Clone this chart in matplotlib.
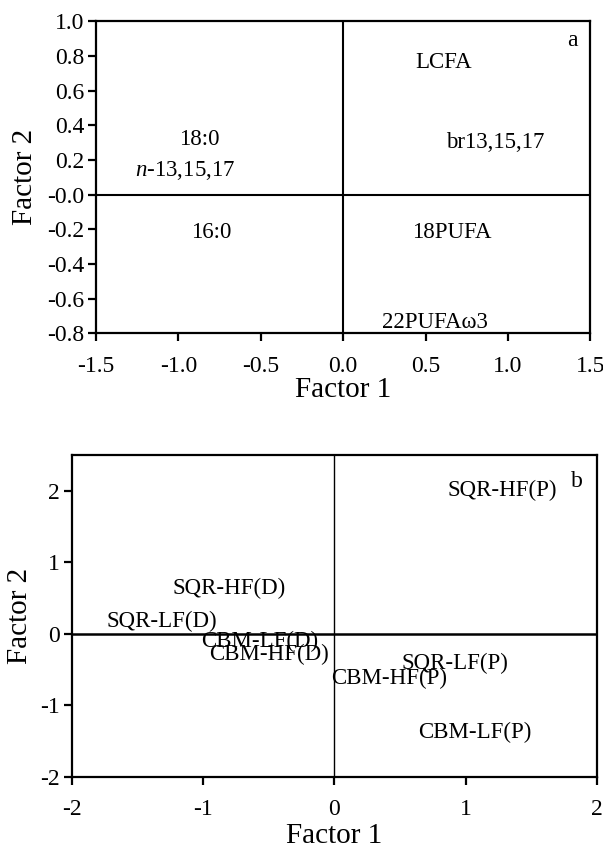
import numpy as np
import matplotlib as mpl
mpl.use('Agg')
import matplotlib.pyplot as plt
from matplotlib.ticker import FormatStrFormatter

plt.rcParams['font.family'] = ['Liberation Serif', 'DejaVu Serif']
plt.rcParams['axes.unicode_minus'] = False
plt.rcParams['mathtext.fontset'] = 'custom'
plt.rcParams['mathtext.it'] = 'Liberation Serif:italic'
plt.rcParams['mathtext.rm'] = 'Liberation Serif'

# panel a: fatty acid loadings
fa_labels = ["LCFA", "18:0", r"$n$-13,15,17", "br13,15,17", "16:0", "18PUFA", "22PUFAω3"]
fa_f1 = [0.61, -0.87, -0.96, 0.92, -0.80, 0.66, 0.56]
fa_f2 = [0.76, 0.32, 0.14, 0.30, -0.22, -0.22, -0.74]

# panel b: sample scores
smp_labels = ["SQR-HF(P)", "SQR-HF(D)", "SQR-LF(D)", "CBM-LF(D)", "CBM-HF(D)",
              "CBM-HF(P)", "SQR-LF(P)", "CBM-LF(P)"]
smp_f1 = [1.28, -0.80, -1.31, -0.57, -0.50, 0.42, 0.92, 1.07]
smp_f2 = [2.00, 0.64, 0.17, -0.10, -0.29, -0.62, -0.41, -1.38]

fig = plt.figure(figsize=(6.03, 8.46), dpi=100)
axA = fig.add_axes([0.159, 0.606, 0.820, 0.369])
axB = fig.add_axes([0.1186, 0.0816, 0.8714, 0.3804])

def style(ax):
    for s in ax.spines.values():
        s.set_linewidth(1.6)
    ax.tick_params(direction='out', length=5.5, width=1.6, labelsize=17, pad=3)
    ax.tick_params(axis='x', length=6, pad=10)

# panel a
axA.set_xlim(-1.5, 1.5)
axA.set_ylim(-0.8, 1.0)
axA.set_xticks(np.arange(-1.5, 1.51, 0.5))
axA.set_yticks(np.arange(-0.8, 1.01, 0.2))
axA.xaxis.set_major_formatter(FormatStrFormatter('%.1f'))
axA.yaxis.set_major_formatter(FormatStrFormatter('%.1f'))
axA.axhline(0, color='k', lw=1.5)
axA.axvline(0, color='k', lw=1.5)
for lab, x, y in zip(fa_labels, fa_f1, fa_f2):
    axA.text(x, y, lab, ha='center', va='center', fontsize=16.5)
axA.text(1.39, 0.89, "a", ha='center', va='center', fontsize=17)
axA.set_xlabel("Factor 1", fontsize=21, labelpad=0)
axA.set_ylabel("Factor 2", fontsize=21, labelpad=6)
style(axA)

# panel b
axB.set_xlim(-2, 2)
axB.set_ylim(-2, 2.5)
axB.set_xticks([-2, -1, 0, 1, 2])
axB.set_yticks([-2, -1, 0, 1, 2])
axB.axhline(0, color='k', lw=1.8)
axB.axvline(0, color='k', lw=1.0)
for lab, x, y in zip(smp_labels, smp_f1, smp_f2):
    axB.text(x, y, lab, ha='center', va='center', fontsize=16.5)
axB.text(1.85, 2.13, "b", ha='center', va='center', fontsize=17)
axB.set_xlabel("Factor 1", fontsize=21, labelpad=2)
axB.set_ylabel("Factor 2", fontsize=21, labelpad=5)
style(axB)

plt.savefig("out.png", dpi=100)
